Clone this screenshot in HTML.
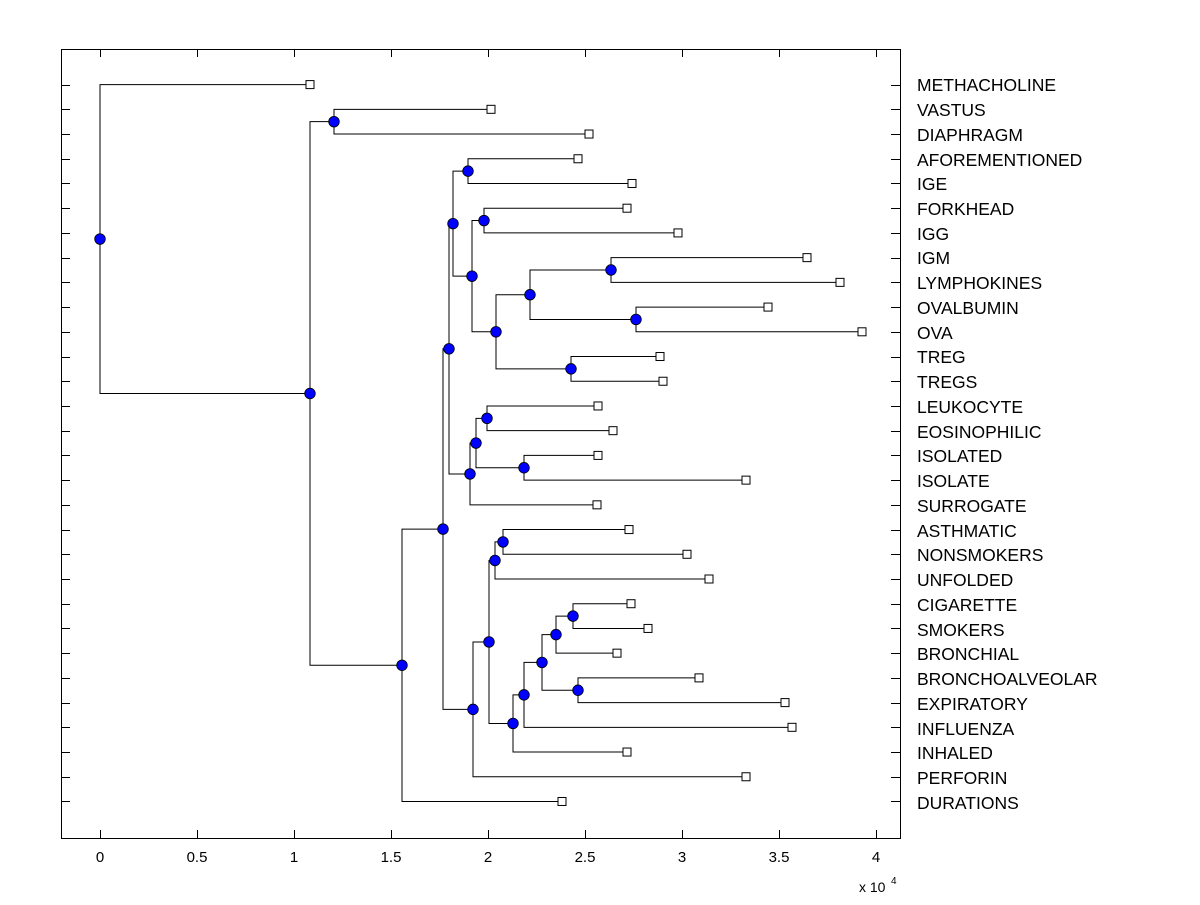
<!DOCTYPE html>
<html><head><meta charset="utf-8"><style>
body{margin:0;background:#fff}
svg text{font-family:"Liberation Sans",Arial,sans-serif;fill:#000}
</style></head><body>
<svg id="s" width="1200" height="900" xmlns="http://www.w3.org/2000/svg">
<rect x="0" y="0" width="1200" height="900" fill="#fff"/>
<rect x="61.5" y="49.5" width="839" height="789" fill="none" stroke="#000" stroke-width="1"/>
<g id="ticks" stroke="#000"></g>
<g id="tree" stroke="#000" fill="none"></g>
<g id="marks"></g>
<g font-size="17.5">
<text x="917" y="91">METHACHOLINE</text>
<text x="917" y="116">VASTUS</text>
<text x="917" y="141">DIAPHRAGM</text>
<text x="917" y="166">AFOREMENTIONED</text>
<text x="917" y="190">IGE</text>
<text x="917" y="215">FORKHEAD</text>
<text x="917" y="240">IGG</text>
<text x="917" y="264">IGM</text>
<text x="917" y="289">LYMPHOKINES</text>
<text x="917" y="314">OVALBUMIN</text>
<text x="917" y="339">OVA</text>
<text x="917" y="363">TREG</text>
<text x="917" y="388">TREGS</text>
<text x="917" y="413">LEUKOCYTE</text>
<text x="917" y="438">EOSINOPHILIC</text>
<text x="917" y="462">ISOLATED</text>
<text x="917" y="487">ISOLATE</text>
<text x="917" y="512">SURROGATE</text>
<text x="917" y="537">ASTHMATIC</text>
<text x="917" y="561">NONSMOKERS</text>
<text x="917" y="586">UNFOLDED</text>
<text x="917" y="611">CIGARETTE</text>
<text x="917" y="636">SMOKERS</text>
<text x="917" y="660">BRONCHIAL</text>
<text x="917" y="685">BRONCHOALVEOLAR</text>
<text x="917" y="710">EXPIRATORY</text>
<text x="917" y="735">INFLUENZA</text>
<text x="917" y="759">INHALED</text>
<text x="917" y="784">PERFORIN</text>
<text x="917" y="809">DURATIONS</text>
</g>
<g font-size="15" text-anchor="middle">
<text x="100" y="862">0</text>
<text x="197" y="862">0.5</text>
<text x="294" y="862">1</text>
<text x="391" y="862">1.5</text>
<text x="488" y="862">2</text>
<text x="585" y="862">2.5</text>
<text x="682" y="862">3</text>
<text x="779" y="862">3.5</text>
<text x="876" y="862">4</text>
</g>
<text x="859" y="892" font-size="14">x 10</text><text x="891" y="884" font-size="10">4</text>
</svg>
<script>
const R=i=>84.6+24.72*i;
const L=(r,x)=>({leaf:1,y:R(r),x});
const N=(x,c)=>({x,c});
const tree=N(100,[L(0,310),
 N(310,[
  N(334,[L(1,491),L(2,589)]),
  N(402,[
   N(443,[
    N(449,[
     N(453,[
      N(468,[L(3,578),L(4,632)]),
      N(472,[
       N(484,[L(5,627),L(6,678)]),
       N(496,[
        N(530,[N(611,[L(7,807),L(8,840)]),N(636,[L(9,768),L(10,862)])]),
        N(571,[L(11,660),L(12,663)])
       ])
      ])
     ]),
     N(470,[
      N(476,[N(487,[L(13,598),L(14,613)]),N(524,[L(15,598),L(16,746)])]),
      L(17,597)
     ])
    ]),
    N(473,[
     N(489,[
      N(495,[N(503,[L(18,629),L(19,687)]),L(20,709)]),
      N(513,[
       N(524,[
        N(542,[
         N(556,[N(573,[L(21,631),L(22,648)]),L(23,617)]),
         N(578,[L(24,699),L(25,785)])
        ]),
        L(26,792)
       ]),
       L(27,627)
      ])
     ]),
     L(28,746)
    ])
   ]),
   L(29,562)
  ])
 ])
]);
const NS="http://www.w3.org/2000/svg";
const T=document.getElementById('tree'),M=document.getElementById('marks'),K=document.getElementById('ticks');
function el(p,n,a){const e=document.createElementNS(NS,n);for(const k in a)e.setAttribute(k,a[k]);p.appendChild(e);return e;}
function Y(n){if(n.leaf)return n.y;n.c.forEach(Y);n.y=n.c.reduce((s,c)=>s+c.y,0)/n.c.length;return n.y;}
Y(tree);
const circles=[],squares=[];
function D(n){if(n.leaf){squares.push(n);return;}
 circles.push(n);
 n.c.forEach(c=>{el(T,'polyline',{points:`${n.x},${n.y} ${n.x},${c.y} ${c.x},${c.y}`});D(c);});}
D(tree);
squares.forEach(s=>el(M,'rect',{x:s.x-4,y:s.y-4,width:8,height:8,fill:'#fff',stroke:'#000'}));
circles.forEach(c=>el(M,'circle',{cx:c.x,cy:c.y,r:5.3,fill:'#0000ff',stroke:'#000','stroke-width':0.8}));
for(let i=0;i<30;i++){const y=Math.round(R(i))+0.5;el(K,'line',{x1:61,y1:y,x2:70,y2:y});el(K,'line',{x1:891,y1:y,x2:900,y2:y});}
for(let i=0;i<=8;i++){const x=Math.round(100+97*i)+0.5;el(K,'line',{x1:x,y1:838,x2:x,y2:830});el(K,'line',{x1:x,y1:49,x2:x,y2:57});}
</script>
</body></html>
